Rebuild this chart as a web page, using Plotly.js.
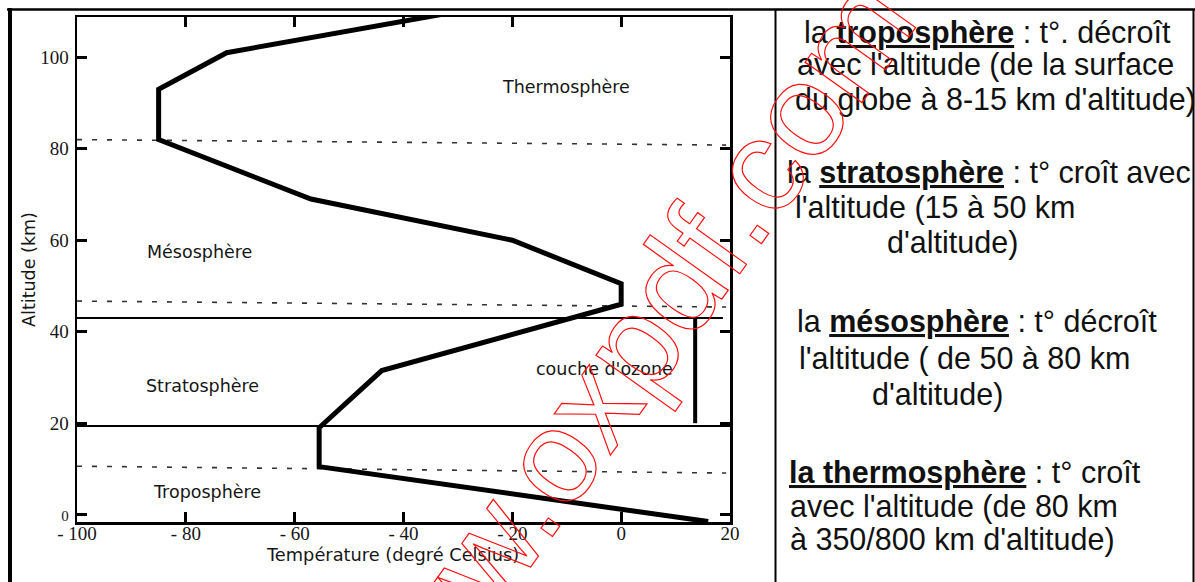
<!DOCTYPE html>
<html>
<head>
<meta charset="utf-8">
<script src="https://cdn.plot.ly/plotly-3.0.1.min.js"></script>
<style>
  html, body { margin: 0; padding: 0; background: #fff; }
  #chart { width: 1195px; height: 582px; }
</style>
</head>
<body>
<div id="chart"></div>
<script>
// ---------------- DATA ----------------
// Temperature profile of the atmosphere (°C vs km)
const temperature = [16, -55.5, -55.5, -44, 0, 0, -20, -57, -85, -85, -72.5, -30];
const altitude    = [-1.5, 10.5, 19, 31.5, 46, 50.5, 60, 69, 82, 93, 101, 110];

// dashed layer boundaries (altitude at left end / right end)
const dashedLeftAlt  = [82, 46.7, 10.6];
const dashedRightAlt = [80.8, 45.4, 9.1];
const dashedTempSpan = [-100, 19.3];

// solid boundaries of the ozone layer
const solidAlt     = [43.0, 19.4];
const solidTempEnd = [18.7, 20];

// ozone bar
const ozoneTemp = [13.6, 13.6];
const ozoneAlt  = [20, 43];

// axis ticks
const xTickVals   = [-100, -80, -60, -40, -20, 0, 20];
const xTickLabels = ['- 100', '- 80', '- 60', '- 40', '- 20', '0', '20'];
const yTickVals   = [0, 20, 40, 60, 80, 100];
const yTickLabels = ['<span style="font-size:15px">0</span>', '20', '40', '60', '80', '100'];

// layer names drawn inside the chart
const layerNames = ['Thermosphère', 'Mésosphère', 'Stratosphère', 'Troposphère', "couche d'ozone"];

// explanatory text panel (one entry per line)
const panelLines = [
  "la <b><u>troposphère</u></b> : t°. décroît",
  "avec l'altitude (de la surface",
  "du globe à 8-15 km d'altitude)",
  "la <b><u>stratosphère</u></b> : t° croît avec",
  "l'altitude (15 à 50 km",
  "d'altitude)",
  "la <b><u>mésosphère</u></b> : t° décroît",
  "l'altitude ( de 50 à 80 km",
  "d'altitude)",
  "<b><u>la thermosphère</u></b> : t° croît",
  "avec l'altitude (de 80 km",
  "à 350/800 km d'altitude)"
];
const watermarkText = 'www.oxpdf.com';

// ---------------- LAYOUT HELPERS ----------------
const W = 1195, H = 582;
const M = {l: 77, r: 465, t: 17, b: 60, pad: 0};
const PW = W - M.l - M.r, PH = H - M.t - M.b;
const px2x = p => (p - M.l) / PW;
const py2y = p => (H - M.b - p) / PH;

// label positions (data coords) for layer names
const layerLabelPos = [[-10.2, 93.4], [-77.4, 57.4], [-77, 28.1], [-76.1, 5.0], [-3, 31.9]];
// panel line positions: [left px, baseline px]
const panelPos = [[802, 43], [795, 75], [793, 110], [785, 183], [793, 218], [885, 253],
                  [795, 332], [797, 369], [870, 405], [787, 483], [788, 517], [788, 550]];

const chartFont = 'DejaVu Sans';
const txtColor = '#161616';

// ---------------- TRACES ----------------
const traces = [];
for (let i = 0; i < dashedLeftAlt.length; i++) {
  traces.push({
    x: dashedTempSpan, y: [dashedLeftAlt[i], dashedRightAlt[i]],
    mode: 'lines', line: {color: '#333', width: 1.6, dash: '5px,10px'},
    hoverinfo: 'skip', showlegend: false
  });
}
for (let i = 0; i < solidAlt.length; i++) {
  traces.push({
    x: [-100, solidTempEnd[i]], y: [solidAlt[i], solidAlt[i]],
    mode: 'lines', line: {color: '#000', width: 2},
    hoverinfo: 'skip', showlegend: false
  });
}
traces.push({
  x: ozoneTemp, y: ozoneAlt, mode: 'lines', line: {color: '#000', width: 4},
  hoverinfo: 'skip', showlegend: false
});
traces.push({
  x: temperature, y: altitude, mode: 'lines',
  line: {color: '#000', width: 5, shape: 'linear'},
  hoverinfo: 'skip', showlegend: false
});

// ---------------- ANNOTATIONS ----------------
const annotations = [];
layerNames.forEach((name, i) => {
  annotations.push({
    x: layerLabelPos[i][0], y: layerLabelPos[i][1], xref: 'x', yref: 'y',
    text: name, showarrow: false, xanchor: 'center', yanchor: 'middle',
    font: {family: chartFont, size: 17.5, color: txtColor}
  });
});
// x-axis title (placed as annotation to sit close to tick labels)
annotations.push({
  x: px2x(392), y: py2y(554), xref: 'paper', yref: 'paper',
  text: 'Température (degré Celsius)', showarrow: false,
  xanchor: 'center', yanchor: 'middle',
  font: {family: chartFont, size: 17.8, color: txtColor}
});
const panelSize = 30.5;
panelLines.forEach((line, i) => {
  annotations.push({
    x: px2x(panelPos[i][0]), y: py2y(panelPos[i][1] - 0.3465 * panelSize),
    xref: 'paper', yref: 'paper', text: line, showarrow: false,
    xanchor: 'left', yanchor: 'middle', align: 'left',
    font: {family: 'Liberation Sans', size: panelSize, color: '#111'}
  });
});
// watermark
annotations.push({
  x: px2x(614), y: py2y(371), xref: 'paper', yref: 'paper',
  text: watermarkText, showarrow: false, textangle: -54.5,
  xanchor: 'center', yanchor: 'middle',
  font: {family: 'Liberation Sans', size: 132, color: 'rgba(255,0,0,0)'}
});

// ---------------- FRAME SHAPES ----------------
const shapes = [
  {type: 'line', xref: 'paper', yref: 'paper', x0: px2x(7), x1: px2x(1195), y0: py2y(9.5), y1: py2y(9.5), line: {color: '#000', width: 2.5}},
  {type: 'line', xref: 'paper', yref: 'paper', x0: px2x(10), x1: px2x(10), y0: py2y(8), y1: py2y(600), line: {color: '#000', width: 4}},
  {type: 'line', xref: 'paper', yref: 'paper', x0: px2x(775.5), x1: px2x(775.5), y0: py2y(9), y1: py2y(600), line: {color: '#000', width: 2}},
  {type: 'line', xref: 'paper', yref: 'paper', x0: px2x(1193.5), x1: px2x(1193.5), y0: py2y(9), y1: py2y(600), line: {color: '#000', width: 2}}
];

const axisCommon = {
  showgrid: false, zeroline: false, showline: true, linecolor: '#000', linewidth: 2.5,
  mirror: 'ticks', ticks: 'inside', ticklen: 10, tickwidth: 3, tickcolor: '#000',
  tickmode: 'array', fixedrange: true,
  tickfont: {family: 'Liberation Serif', size: 19, color: txtColor}
};

const layout = {
  width: W, height: H, autosize: false, margin: M,
  paper_bgcolor: '#fff', plot_bgcolor: '#fff',
  xaxis: Object.assign({}, axisCommon, {
    range: [-100, 20], tickvals: xTickVals, ticktext: xTickLabels,
    ticklabelstandoff: -7
  }),
  yaxis: Object.assign({}, axisCommon, {
    range: [-1.6, 108.8], tickvals: yTickVals, ticktext: yTickLabels,
    ticklabelstandoff: 2,
    title: {text: 'Altitude (km)', standoff: 0,
            font: {family: chartFont, size: 17.5, color: txtColor}}
  }),
  annotations: annotations,
  shapes: shapes,
  showlegend: false
};

Plotly.newPlot('chart', traces, layout, {displayModeBar: false, staticPlot: true}).then(() => {
  document.querySelectorAll('#chart text.annotation-text').forEach(t => {
    if (t.textContent === watermarkText) {
      t.style.fill = 'none';
      t.style.stroke = '#ff1010';
      t.style.strokeWidth = '1.2px';
    }
  });
});
</script>
</body>
</html>
